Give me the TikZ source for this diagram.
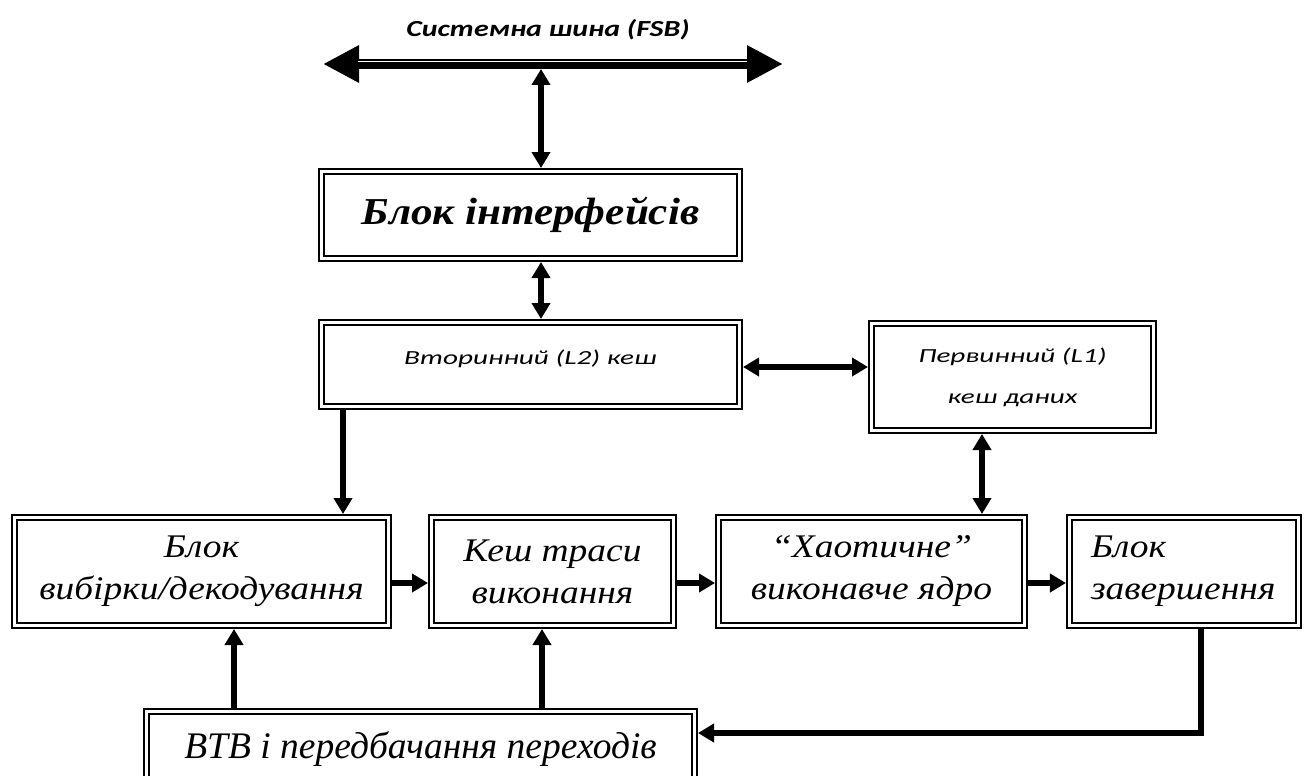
\documentclass[tikz,border=0pt]{standalone}
\usepackage{fontspec}
\setmainfont{Liberation Serif}
\newfontfamily\wideserif[FakeStretch=1.135,Ligatures=TeX]{Liberation Serif}
\newfontfamily\calib[FakeStretch=1.46]{Carlito}
\newfontfamily\buscalib[FakeStretch=1.3]{Carlito}
\usetikzlibrary{arrows.meta,positioning,calc}

\begin{document}
\begin{tikzpicture}[
        x=1pt, y=-1pt,
        box/.style={draw, line width=2.3pt, double, double distance=2.5pt, outer sep=3.55pt, inner sep=0pt, align=center},
        rowbox/.style={box, minimum height=107.9pt, font=\wideserif\itshape\fontsize{33}{42}\selectfont},
        cachebox/.style={box, font=\calib\itshape\fontsize{20}{41}\selectfont},
        conn/.style={line width=5.5pt, -{Triangle[width=18pt,length=16pt]}},
        biconn/.style={line width=5.5pt, {Triangle[width=18pt,length=16pt]}-{Triangle[width=18pt,length=16pt]}},
    ]
    \useasboundingbox (0,0) rectangle (1304,776);

    % system bus
    \node[font=\buscalib\bfseries\itshape\fontsize{23}{28}\selectfont] (buslabel) at (548,30) {Системна шина (FSB)};
    \coordinate (busL) at (323,64);
    \coordinate (busR) at (783,64);
    \coordinate (bustap) at (541,69);
    \draw[line width=10pt, {Triangle[width=35pt,length=36pt]}-{Triangle[width=35pt,length=36pt]}] (busL) -- (busR);
    \draw[white, line width=1.4pt] (358,61.8) -- (747,61.8);

    % blocks
    \node[box, minimum width=417.9pt, minimum height=86.9pt, font=\wideserif\fontsize{38}{44}\selectfont\bfseries\itshape] (iface) at (530.5,215) {Блок інтерфейсів};
    \node[cachebox, minimum width=417.9pt, minimum height=83.9pt, text depth=14pt] (l2) at (530.5,364.5) {Вторинний (L2) кеш};
    \node[cachebox, minimum width=281.9pt, minimum height=106.9pt] (l1) at (1012.5,377) {Первинний (L1)\\кеш даних};
    \node[rowbox, minimum width=373.9pt] (fetch) at (201.5,571.5) {Блок\\вибірки/декодування};
    \node[rowbox, minimum width=241.9pt] (trace) at (552.5,571.5) {Кеш траси\\виконання};
    \node[rowbox, minimum width=305.9pt] (core) at (871.5,571.5) {“Хаотичне”\\виконавче ядро};
    \node[rowbox, text width=186pt, inner xsep=21.5pt, align=left] (retire) at (1184,571.5) {Блок\\завершення};
    \node[box, minimum width=547.9pt, minimum height=74.9pt, font=\fontsize{37.5}{43}\selectfont\itshape] (btb) at (420.5,749) {BTB і передбачання переходів};

    % connectors
    \draw[biconn] (bustap) -- (bustap |- iface.north);
    \draw[biconn] ([xshift=10.5pt]iface.south) -- ([xshift=10.5pt]iface.south |- l2.north);
    \draw[biconn] ([yshift=-2.5pt]l2.east) -- ([yshift=-2.5pt]l2.east -| l1.west);
    \draw[conn] ([xshift=25pt]l2.south west) -- ([xshift=25pt]l2.south west |- fetch.north);
    \draw[biconn] ([xshift=267pt]core.north west) -- ([xshift=267pt]core.north west |- l1.south);
    \draw[conn] ([yshift=-11.5pt]fetch.east) -- ([yshift=-11.5pt]fetch.east -| trace.west);
    \draw[conn] ([yshift=-11.5pt]trace.east) -- ([yshift=-11.5pt]trace.east -| core.west);
    \draw[conn] ([yshift=-11.5pt]core.east) -- ([yshift=-11.5pt]core.east -| retire.west);
    \draw[conn] ([xshift=91pt]btb.north west) -- ([xshift=91pt]btb.north west |- fetch.south);
    \draw[conn] ([xshift=399pt]btb.north west) -- ([xshift=399pt]btb.north west |- trace.south);
    \draw[line width=5.5pt, -{Triangle[width=18pt,length=16pt]}] ([xshift=135pt]retire.south west) |- ([yshift=16pt]btb.east);
\end{tikzpicture}
\end{document}
